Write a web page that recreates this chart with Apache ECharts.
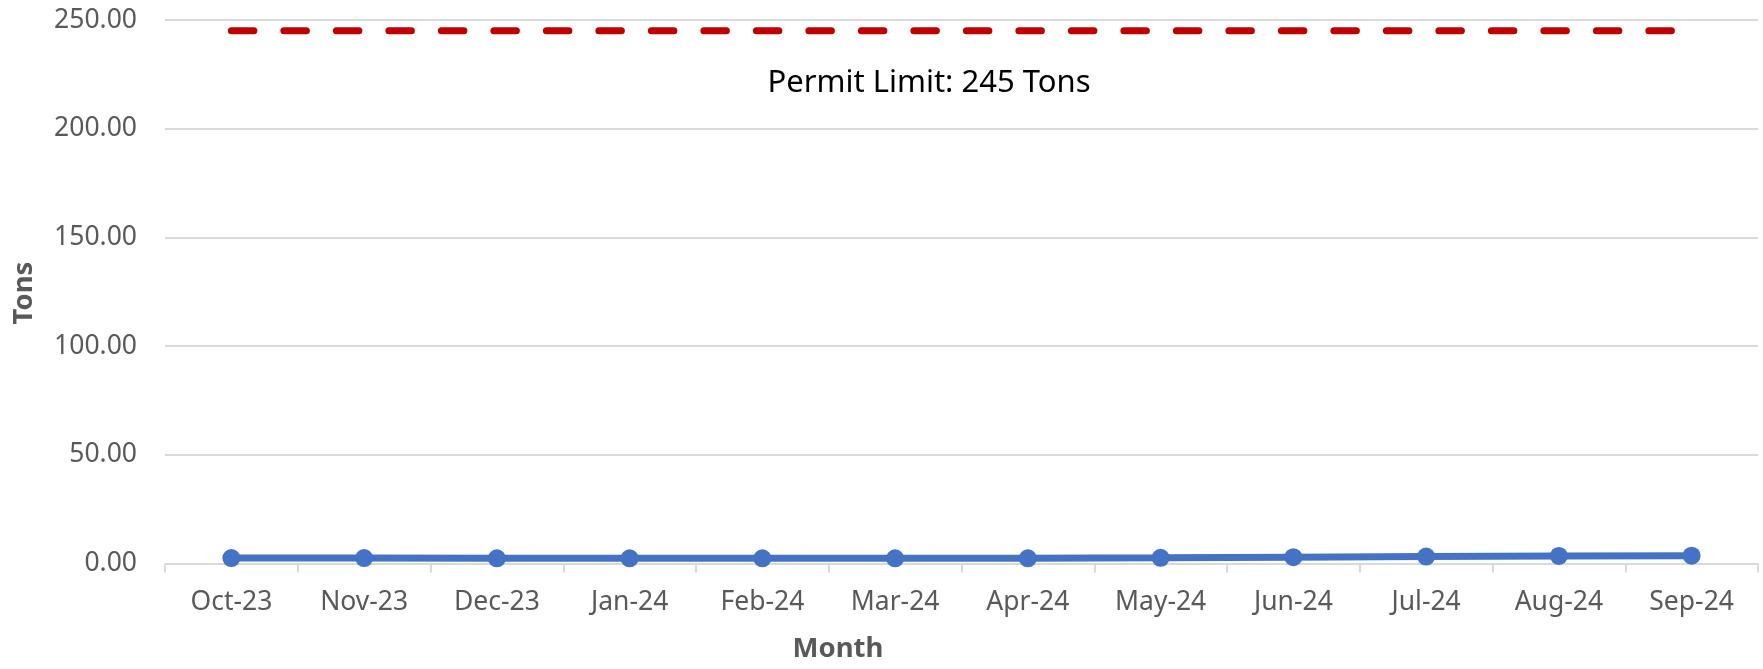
<!DOCTYPE html>
<html>
<head>
<meta charset="utf-8">
<script src="https://cdn.jsdelivr.net/npm/echarts@6/dist/echarts.min.js"></script>
<style>
html,body{margin:0;padding:0;background:#fff;}
#chart{width:1763px;height:669px;}
</style>
</head>
<body>
<div id="chart"></div>
<script>
const months = ['Oct-23','Nov-23','Dec-23','Jan-24','Feb-24','Mar-24','Apr-24','May-24','Jun-24','Jul-24','Aug-24','Sep-24'];
const tons = [2.5, 2.5, 2.4, 2.4, 2.4, 2.4, 2.4, 2.6, 2.9, 3.2, 3.5, 3.6];
const permitLimit = [245, 245, 245, 245, 245, 245, 245, 245, 245, 245, 245, 245];
const yTicks = {min: 0, max: 250, interval: 50};
const permitText = 'Permit Limit: 245 Tons';

const FONT = 'Noto Sans';
const chart = echarts.init(document.getElementById('chart'), null, {renderer: 'canvas'});
chart.setOption({
  animation: false,
  backgroundColor: '#ffffff',
  grid: {left: 165, right: 5, top: 20, bottom: 105.5, containLabel: false},
  xAxis: {
    type: 'category',
    data: months,
    boundaryGap: true,
    axisLine: {show: true, lineStyle: {color: '#d9d9d9', width: 2}},
    axisTick: {show: true, alignWithLabel: false, length: 9, lineStyle: {color: '#d9d9d9', width: 2}},
    axisLabel: {color: '#595959', fontFamily: FONT, fontSize: 26.5, margin: 25},
    splitLine: {show: false}
  },
  yAxis: {
    type: 'value',
    min: yTicks.min, max: yTicks.max, interval: yTicks.interval,
    axisLine: {show: false},
    axisTick: {show: false},
    axisLabel: {color: '#595959', fontFamily: FONT, fontSize: 26.5, margin: 28,
      formatter: v => v.toFixed(2)},
    splitLine: {show: true, lineStyle: {color: '#d9d9d9', width: 2}}
  },
  series: [
    {
      name: 'Permit Limit',
      type: 'line',
      data: permitLimit,
      symbol: 'none',
      lineStyle: {color: '#c00000', width: 7, type: [22.5, 30], cap: 'round'},
      z: 2
    },
    {
      name: 'Tons',
      type: 'line',
      data: tons,
      symbol: 'circle',
      symbolSize: 18,
      itemStyle: {color: '#4472c4'},
      lineStyle: {color: '#4472c4', width: 7},
      z: 3
    }
  ],
  graphic: [
    {type: 'text', x: 929, y: 83,
      style: {text: permitText, fill: '#000000', font: '31px "Noto Sans"', textAlign: 'center', textVerticalAlign: 'middle'}},
    {type: 'text', x: 838, y: 649,
      style: {text: 'Month', fill: '#595959', font: 'bold 27.5px "Noto Sans"', textAlign: 'center', textVerticalAlign: 'middle'}},
    {type: 'text', x: 24, y: 293, rotation: Math.PI / 2,
      style: {text: 'Tons', fill: '#595959', font: 'bold 27.5px "Noto Sans"', textAlign: 'center', textVerticalAlign: 'middle'}}
  ]
});
</script>
</body>
</html>
